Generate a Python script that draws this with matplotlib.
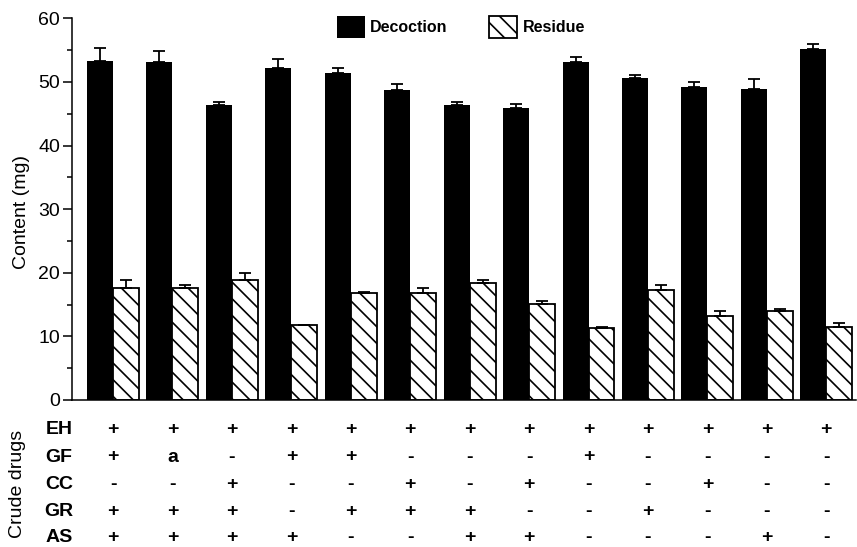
import numpy as np
import matplotlib
matplotlib.use("Agg")
import matplotlib.pyplot as plt
from matplotlib.patches import Patch
from matplotlib.transforms import blended_transform_factory

plt.rcParams['font.family'] = ['Liberation Sans', 'DejaVu Sans']
plt.rcParams['hatch.linewidth'] = 1.2

# values (mg)
decoction = [53.35, 53.1, 46.4, 52.25, 51.45, 48.7, 46.4, 45.9, 53.1, 50.55, 49.25, 48.95, 55.1]
decoction_err = [1.95, 1.7, 0.5, 1.3, 0.75, 1.0, 0.5, 0.7, 0.8, 0.6, 0.8, 1.55, 0.8]
residue = [17.55, 17.55, 18.9, 11.8, 16.8, 16.8, 18.4, 15.15, 11.3, 17.3, 13.2, 14.0, 11.5]
residue_err = [1.3, 0.55, 1.0, 0.0, 0.15, 0.8, 0.5, 0.45, 0.25, 0.8, 0.75, 0.3, 0.6]

drug_names = ['EH', 'GF', 'CC', 'GR', 'AS']
drug_table = [
    ['+', '+', '+', '+', '+', '+', '+', '+', '+', '+', '+', '+', '+'],
    ['+', 'a', '-', '+', '+', '-', '-', '-', '+', '-', '-', '-', '-'],
    ['-', '-', '+', '-', '-', '+', '-', '+', '-', '-', '+', '-', '-'],
    ['+', '+', '+', '-', '+', '+', '+', '-', '-', '+', '-', '-', '-'],
    ['+', '+', '+', '+', '-', '-', '+', '+', '-', '-', '-', '+', '-'],
]

W, H = 857, 547
fig = plt.figure(figsize=(W / 100, H / 100), dpi=100)
ax = fig.add_axes([72 / W, 147 / H, 784 / W, 381.7 / H])

x = np.arange(len(decoction))
w = 0.437

ax.bar(x - w / 2, decoction, w, color='black', linewidth=0, label='Decoction', zorder=2)
ax.bar(x + w / 2, residue, w, color='white', edgecolor='black', linewidth=1.3,
       hatch='\\\\', label='Residue', zorder=2)

zeros = np.zeros(len(x))
ax.errorbar(x - w / 2, decoction, yerr=[zeros, decoction_err], fmt='none',
            ecolor='black', elinewidth=1.3, capsize=4.5, capthick=1.3, zorder=3)
ax.errorbar(x + w / 2, residue, yerr=[zeros, residue_err], fmt='none',
            ecolor='black', elinewidth=1.3, capsize=4.5, capthick=1.3, zorder=3)

ax.set_xlim(-0.69, 12.5)
ax.set_ylim(0, 60)
ax.set_yticks(np.arange(0, 61, 10))
ax.set_yticks(np.arange(5, 60, 10), minor=True)
ax.set_xticks([])
ax.tick_params(axis='y', which='major', length=6.5, width=1.1, labelsize=14, pad=2)
ax.tick_params(axis='y', which='minor', length=3.5, width=1.1)
for s in ['top', 'right']:
    ax.spines[s].set_visible(False)
ax.spines['left'].set_linewidth(1.1)
ax.spines['bottom'].set_linewidth(1.1)

fig.text(22 / W, 1 - 212 / H, 'Content (mg)', rotation=90, ha='center', va='center', fontsize=14)

handles = [Patch(facecolor='black', edgecolor='black', linewidth=0, label='Decoction'),
           Patch(facecolor='white', edgecolor='black', linewidth=1.3, hatch='\\\\', label='Residue')]
ax.legend(handles=handles, ncol=2, loc='upper left', bbox_to_anchor=(0.3376, 1.006),
          frameon=False, borderpad=0, borderaxespad=0, handlelength=1.75, handleheight=1.75,
          handletextpad=0.35, columnspacing=2.6, prop={'weight': 'bold', 'size': 11.5})

# crude drug table below the axis
baselines = [434, 461.5, 489, 516, 542]
trans = blended_transform_factory(ax.transData, fig.transFigure)
for name, row, yb in zip(drug_names, drug_table, baselines):
    fig.text(59 / W, 1 - yb / H, name, ha='center', va='baseline', fontsize=14, fontweight='bold')
    for xi, sym in zip(x, row):
        ax.text(xi, 1 - yb / H, sym, transform=trans, ha='center', va='baseline',
                fontsize=14, fontweight='bold', clip_on=False)

fig.text(18 / W, 1 - 484 / H, 'Crude drugs', rotation=90, ha='center', va='center', fontsize=14)

fig.savefig('out.png', dpi=100)
